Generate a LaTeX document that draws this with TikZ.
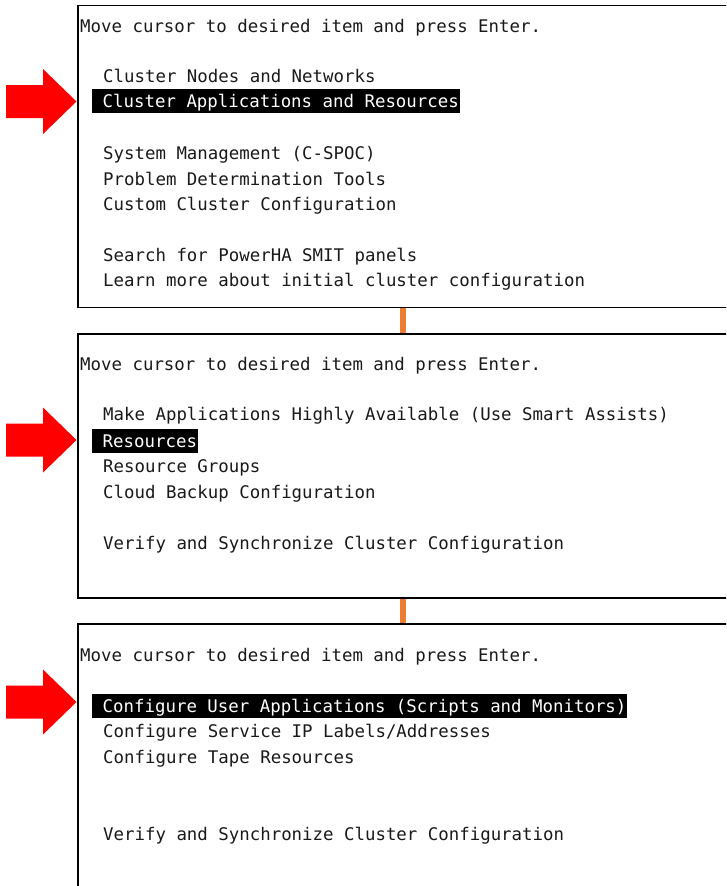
\documentclass[tikz,border=0pt]{standalone}
\usepackage{fontspec}
\setmonofont{DejaVu Sans Mono}
\begin{document}
\begin{tikzpicture}[x=1pt,y=-1pt,
  term/.style={font=\ttfamily\fontsize{17.4}{20}\selectfont, inner xsep=0pt,
    inner ysep=3.5pt, text height=15pt, text depth=2pt, anchor=west, text=black!90},
  hl/.style={term, fill=black, text=white},
  panel/.style={draw=black, line width=1.8pt, inner sep=0pt, anchor=north west, minimum width=720pt},
  link/.style={draw={rgb,255:red,237;green,125;blue,49}, line width=6pt},
  pointer/.pic={\fill[red] (0,0) -- (-33.5,-32.5) -- (-33.5,-16.5) -- (-70.5,-16.5)
    -- (-70.5,16.5) -- (-33.5,16.5) -- (-33.5,32.5) -- cycle;}
]
\useasboundingbox (0,0) rectangle (726,886);
\clip (0,0) rectangle (726,886);

% three SMIT menu panels
\node[panel, minimum height=302pt] (p1) at (77,4.5) {};
\node[panel, minimum height=264pt] (p2) at (77,333) {};
\node[panel, minimum height=330pt] (p3) at (77,623) {};

% connectors between the panels
\coordinate (cx) at (403,0);
\draw[link] (p1.south -| cx) -- (p2.north -| cx);
\draw[link] (p2.south -| cx) -- (p3.north -| cx);

% first menu
\node[term] (a0) at (80,26) {Move cursor to desired item and press Enter.};
\node[term] (a1) at (103,76) {Cluster Nodes and Networks};
\node[hl]   (a2) at (92,101) {\hspace*{10.5pt}Cluster Applications and Resources\hspace*{1pt}};
\node[term] (a3) at (103,153) {System Management (C-SPOC)};
\node[term] (a4) at (103,179) {Problem Determination Tools};
\node[term] (a5) at (103,204) {Custom Cluster Configuration};
\node[term] (a6) at (103,255) {Search for PowerHA SMIT panels};
\node[term] (a7) at (103,280) {Learn more about initial cluster configuration};

% second menu
\node[term] (b0) at (80,364) {Move cursor to desired item and press Enter.};
\node[term] (b1) at (103,414) {Make Applications Highly Available (Use Smart Assists)};
\node[hl]   (b2) at (92,440.5) {\hspace*{10.5pt}Resources\hspace*{1pt}};
\node[term] (b3) at (103,466) {Resource Groups};
\node[term] (b4) at (103,492) {Cloud Backup Configuration};
\node[term] (b5) at (103,543) {Verify and Synchronize Cluster Configuration};

% third menu
\node[term] (c0) at (80,655) {Move cursor to desired item and press Enter.};
\node[hl]   (c1) at (92,706) {\hspace*{10.5pt}Configure User Applications (Scripts and Monitors)\hspace*{1pt}};
\node[term] (c2) at (103,731) {Configure Service IP Labels/Addresses};
\node[term] (c3) at (103,757) {Configure Tape Resources};
\node[term] (c4) at (103,834) {Verify and Synchronize Cluster Configuration};

% red pointers at the selected entries
\pic at (76.5,101.5) {pointer};
\pic at (76.5,440) {pointer};
\pic at (76.5,702) {pointer};
\end{tikzpicture}
\end{document}
